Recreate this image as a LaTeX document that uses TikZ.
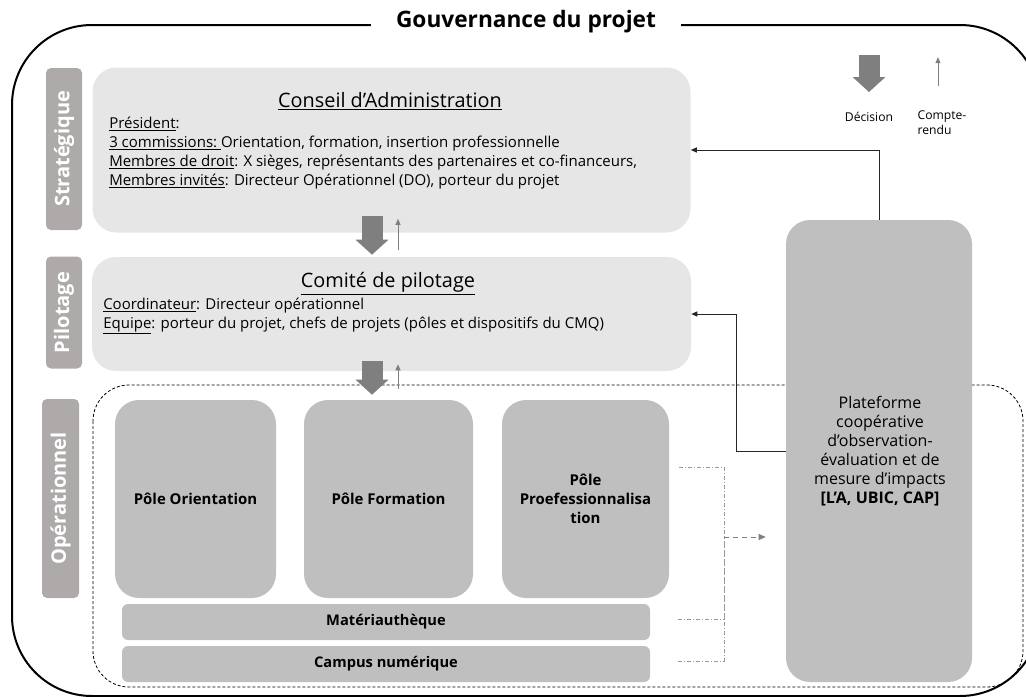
\documentclass[tikz,border=0pt]{standalone}
\usepackage{fontspec}
\setmainfont{Open Sans}
\usetikzlibrary{arrows.meta}
\newlength\px
\setlength\px{0.75pt}
\definecolor{boxlight}{HTML}{E6E6E6}
\definecolor{boxdark}{HTML}{BFBFBF}
\definecolor{sidegray}{HTML}{AEAAAA}
\definecolor{arrowgray}{HTML}{7F7F7F}
\begin{document}
\begin{tikzpicture}[x=0.75pt,y=-0.75pt,
  lightbox/.style={fill=boxlight,rounded corners=24\px,inner sep=0pt},
  darkbox/.style={fill=boxdark,rounded corners=24\px,inner sep=0pt,align=center,font=\bfseries\fontsize{11.2}{14.25}\selectfont},
  bar/.style={fill=boxdark,rounded corners=6\px,inner sep=0pt,font=\bfseries\fontsize{11}{14.25}\selectfont},
  sidelabel/.style={fill=sidegray,text=white,rounded corners=5\px,rotate=90,inner sep=0pt,font=\bfseries\fontsize{15}{17}\selectfont},
  decide/.style={draw=arrowgray,line width=21\px,-{Triangle[length=11.25pt,width=24pt]}},
  report/.style={draw=arrowgray,line width=1\px,-{Triangle[length=4.5pt,width=3.75pt]}},
  feedback/.style={draw=black!85,line width=1\px,-{Triangle[length=4.5pt,width=3.75pt]}},
  dotdash/.style={draw=gray!80,line width=0.8\px,dash pattern=on 4\px off 2\px on 1\px off 2\px},
  flow/.style={draw=arrowgray,line width=1\px,dash pattern=on 5\px off 4\px,-{Triangle[length=5.25pt,width=4.5pt]}},
  bodytext/.style={inner sep=0pt,align=left,anchor=west,font=\fontsize{11.25}{14.25}\selectfont},
  boxtitle/.style={inner sep=0pt,font=\fontsize{14.9}{17}\selectfont}]
\useasboundingbox (0,0) rectangle (1026,697);
\clip (0,0) rectangle (1026,697);

% outer frame and title
\draw[line width=2\px,rounded corners=80\px] (12,25) rectangle (1040,696);
\node[fill=white,inner xsep=19pt,inner ysep=2pt,font=\bfseries\fontsize{17}{19}\selectfont] (title) at (526,22) {Gouvernance du projet};

% operational area
\draw[line width=0.8\px,dash pattern=on 3\px off 2\px,rounded corners=36\px] (93,385) rectangle (1023,687);

% levels
\node[sidelabel,minimum width=162\px,minimum height=36\px] (strat) at (64,149) {Stratégique};
\node[sidelabel,minimum width=112\px,minimum height=36\px] (pilot) at (64,312.5) {Pilotage};
\node[sidelabel,minimum width=199\px,minimum height=37\px] (oper) at (60.5,498.5) {Opérationnel};

% conseil
\node[lightbox,minimum width=598\px,minimum height=165\px] (ca) at (391.5,150) {};
\node[boxtitle] (catitle) at (390,101) {\underline{Conseil d’Administration}};
\node[bodytext] (catext) at (109,153) {\underline{Président}:\\
\underline{3 commissions:\ }Orientation, formation, insertion professionnelle\\
\underline{Membres de droit}: X sièges, représentants des partenaires et co-financeurs,\\
\underline{Membres invités}: Directeur Opérationnel (DO), porteur du projet};

% comite
\node[lightbox,minimum width=599\px,minimum height=114\px] (cp) at (391.5,314) {};
\node[boxtitle] (cptitle) at (388,284) {\underline{Comité de pilotage}};
\node[bodytext] (cptext) at (103,316) {\underline{Coordinateur}: Directeur opérationnel\\
\underline{Equipe}: porteur du projet, chefs de projets (pôles et dispositifs du CMQ)};

% poles
\node[darkbox,minimum width=161\px,minimum height=198\px] (orient) at (195.5,499) {Pôle Orientation};
\node[darkbox,minimum width=169\px,minimum height=198\px] (form) at (388.5,499) {Pôle Formation};
\node[darkbox,minimum width=167\px,minimum height=198\px] (pro) at (585.5,499) {Pôle\\Proefessionnalisa\\tion};
\node[bar,minimum width=528\px,minimum height=36\px] (mat) at (386,622) {Matériauthèque};
\node[bar,minimum width=528\px,minimum height=36\px] (camp) at (386,664) {Campus numérique};

% plateforme
\node[fill=boxdark,rounded corners=24\px,minimum width=186\px,minimum height=462\px,inner sep=0pt] (pf) at (879,451) {};
\node[align=center,inner sep=0pt,font=\fontsize{12}{14.25}\selectfont] (pftext) at (880,451) {Plateforme\\coopérative\\d’observation-\\évaluation et de\\mesure d’impacts\\\textbf{[L’A, UBIC, CAP]}};

% decisions and reports
\draw[decide] ([shift={(-19.5,-17)}]ca.south) -- ([shift={(-19.5,-2)}]cp.north);
\draw[report] ([shift={(6.5,-7)}]cp.north) -- ([shift={(6.5,-14)}]ca.south);
\draw[decide] ([shift={(-19.5,-10)}]cp.south) -- ([shift={(-16.5,-5)}]form.north);
\draw[report] ([shift={(9.5,-11)}]form.north) -- ([shift={(6.5,-7)}]cp.south);

% feedback from plateforme
\draw[feedback] (pf.north) |- (ca.east);
\draw[feedback] (pf.west) -- ++(-49,0) |- (cp.east);

% poles to plateforme
\coordinate (join) at (724,537);
\draw[dotdash] ([shift={(10,-32)}]pro.east) -| (join);
\draw[dotdash] ([shift={(28,-3)}]mat.east) -| (join);
\draw[dotdash] ([shift={(28,-3)}]camp.east) -| (join);
\draw[flow] (join) -- ([shift={(-20,0)}]pf.west |- join);

% legend
\node[inner sep=0pt,font=\fontsize{9.1}{11}\selectfont] (legdec) at (869,117) {Décision};
\node[inner sep=0pt,align=left,font=\fontsize{9.1}{11.5}\selectfont] (legrep) at (942,122.5) {Compte-\\rendu};
\draw[decide] ([shift={(0,-57)}]legdec.north) -- ([shift={(0,-20)}]legdec.north);
\draw[report] ([shift={(-4,-24)}]legrep.north) -- ([shift={(-4,-53)}]legrep.north);
\end{tikzpicture}
\end{document}
